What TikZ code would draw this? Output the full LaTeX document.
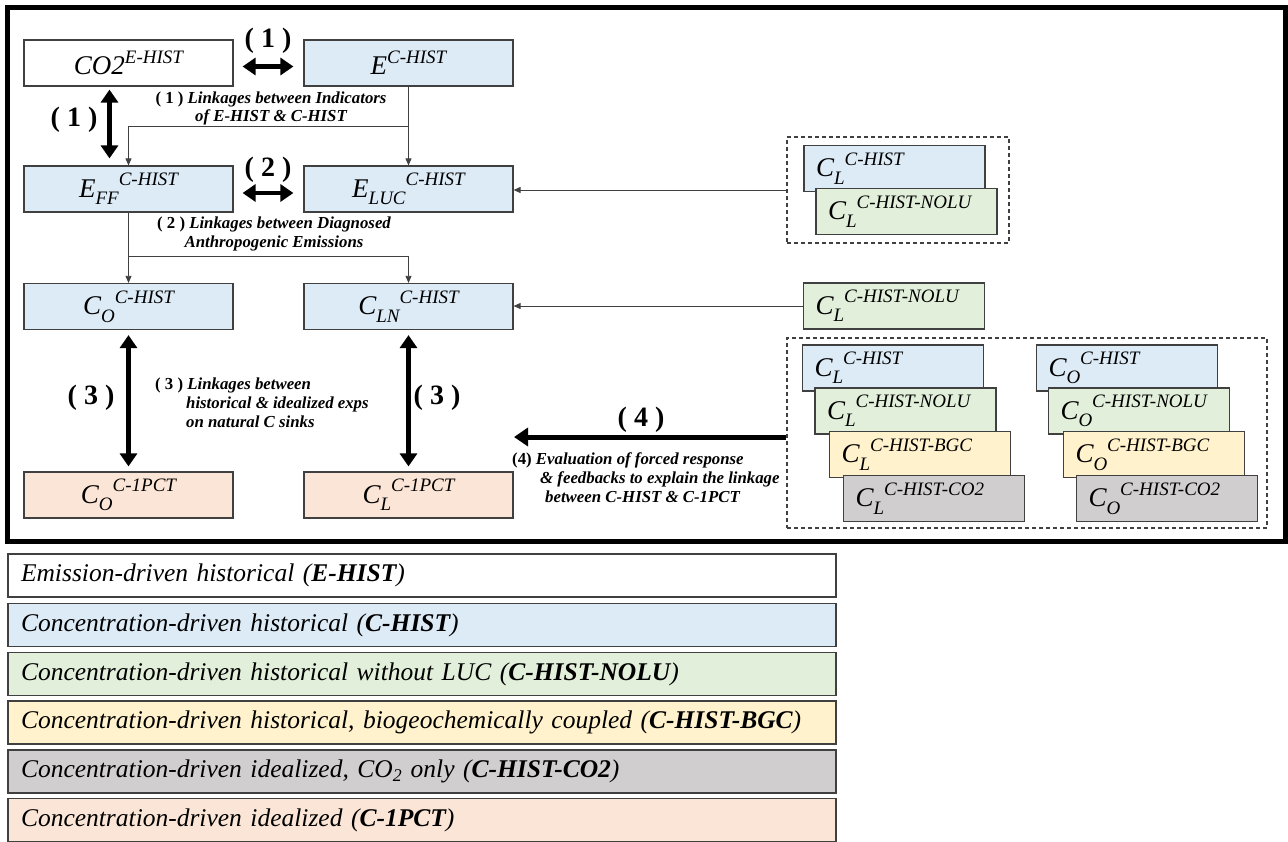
\documentclass[tikz,border=0pt]{standalone}
\usepackage{fontspec}
\setmainfont{Liberation Serif}
\usetikzlibrary{arrows.meta}

\definecolor{edge}{RGB}{64,64,64}
\definecolor{chist}{RGB}{221,235,247}
\definecolor{cnolu}{RGB}{226,239,218}
\definecolor{cbgc}{RGB}{255,242,204}
\definecolor{cco2}{RGB}{208,206,206}
\definecolor{cpct}{RGB}{251,229,214}

\newcommand{\up}[1]{\raisebox{0.42em}{\fontsize{19}{19}\selectfont #1}}
\newcommand{\dn}[1]{\raisebox{-0.28em}{\fontsize{19}{19}\selectfont #1}}

\begin{document}
\begin{tikzpicture}[x=1pt,y=-1pt,
  box/.style={draw=edge, line width=1.2pt, minimum width=209pt, minimum height=46pt, inner sep=0pt, font=\fontsize{27}{30}\selectfont\itshape},
  rbox/.style={box, minimum width=181pt, text width=157pt, inner xsep=12pt, align=left},
  dashbox/.style={draw=edge, line width=1.1pt, dash pattern=on 4pt off 3pt, inner sep=0pt},
  leg/.style={draw=edge, line width=1.5pt, minimum height=43pt, text width=802pt, inner xsep=13pt, inner ysep=0pt, align=left, font=\fontsize{25.5}{28}\selectfont\itshape},
  num/.style={inner sep=0pt, font=\fontsize{28}{30}\selectfont\bfseries},
  note/.style={inner sep=0pt, font=\fontsize{16.8}{18.8}\selectfont\bfseries\itshape},
  thinarr/.style={draw=edge, line width=0.8pt, -{Triangle[length=7pt,width=6pt]}},
  bigarr/.style={line width=4.5pt, {Triangle[length=13pt,width=17pt]}-{Triangle[length=13pt,width=17pt]}},
  bigarrfour/.style={line width=5pt, -{Triangle[length=14pt,width=18pt]}}]
\useasboundingbox (0,0) rectangle (1288,841);
\draw[line width=5pt] (7,7.5) rectangle (1285,541);

% left part
\node[box, fill=white] (co2e) at (128.5,63) {CO2\up{E-HIST}};
\node[box, fill=chist] (ech) at (408.5,63) {E\up{C-HIST}};
\node[box, fill=chist] (eff) at (128.5,189) {E\dn{FF}\up{C-HIST}};
\node[box, fill=chist] (eluc) at (408.5,189) {E\dn{LUC}\up{C-HIST}};
\node[box, fill=chist] (co) at (128.5,306.5) {C\dn{O}\up{C-HIST}};
\node[box, fill=chist] (cln) at (408.5,306.5) {C\dn{LN}\up{C-HIST}};
\node[box, fill=cpct] (copct) at (128.5,495) {C\dn{O}\up{C-1PCT}};
\node[box, fill=cpct] (clpct) at (408.5,495) {C\dn{L}\up{C-1PCT}};

% right part
\node[dashbox, minimum width=222pt, minimum height=106pt] (grp1) at (898,190) {};
\node[rbox, fill=chist] (clh) at (894.5,168.5) {C\dn{L}\up{C-HIST}};
\node[rbox, fill=cnolu] (cln1) at (906.5,211.5) {C\dn{L}\up{C-HIST-NOLU}};
\node[rbox, fill=cnolu] (nolu) at (894,306) {C\dn{L}\up{C-HIST-NOLU}};
\node[dashbox, minimum width=480pt, minimum height=190pt] (grp2) at (1027,433) {};
\node[rbox, fill=chist] (la) at (893,368) {C\dn{L}\up{C-HIST}};
\node[rbox, fill=cnolu] (lb) at (905.5,411) {C\dn{L}\up{C-HIST-NOLU}};
\node[rbox, fill=cbgc] (lc) at (920,454.5) {C\dn{L}\up{C-HIST-BGC}};
\node[rbox, fill=cco2] (ld) at (934,498.5) {C\dn{L}\up{C-HIST-CO2}};
\node[rbox, fill=chist] (oa) at (1127,368) {C\dn{O}\up{C-HIST}};
\node[rbox, fill=cnolu] (ob) at (1139,411) {C\dn{O}\up{C-HIST-NOLU}};
\node[rbox, fill=cbgc] (oc) at (1154,454.5) {C\dn{O}\up{C-HIST-BGC}};
\node[rbox, fill=cco2] (od) at (1167,498.5) {C\dn{O}\up{C-HIST-CO2}};

% thin links
\coordinate (split1) at (408.5,126);
\coordinate (split2) at (128.5,256);
\draw[thinarr] (ech) -- (eluc);
\draw[thinarr] (split1) -| (eff.north);
\draw[thinarr] (eff) -- (co);
\draw[thinarr] (split2) -| (cln.north);
\draw[thinarr] (grp1.west) -- (grp1.west -| eluc.east);
\draw[thinarr] (nolu.west) -- (nolu.west -| cln.east);

% thick links
\draw[bigarr] ([xshift=9pt,yshift=-3.5pt]co2e.east) -- ([xshift=-10pt,yshift=-3.5pt]ech.west);
\draw[bigarr] ([xshift=-19pt,yshift=-3pt]co2e.south) -- ([xshift=-19pt,yshift=7pt]eff.north);
\draw[bigarr] ([xshift=9pt,yshift=-4pt]eff.east) -- ([xshift=-10pt,yshift=-4pt]eluc.west);
\draw[bigarr] ([yshift=-5pt]co.south) -- ([yshift=5pt]copct.north);
\draw[bigarr] ([yshift=-5pt]cln.south) -- ([yshift=5pt]clpct.north);
\coordinate (tip4) at (514,437);
\draw[bigarrfour] (grp2.west |- tip4) -- (tip4);

% labels
\node[num] (l1a) at (268,40.5) {( 1 )};
\node[num] (l1b) at (74,119.5) {( 1 )};
\node[num] (l2) at (268,169.5) {( 2 )};
\node[num] (l3a) at (91,398) {( 3 )};
\node[num] (l3b) at (437,398) {( 3 )};
\node[num] (l4) at (641,420) {( 4 )};
\node[note, align=center] (t1) at (271,108.5) {\textup{( 1 )} Linkages between Indicators\\of E-HIST \& C-HIST};
\node[note, align=center] (t2) at (274,234) {\textup{( 2 )} Linkages between Diagnosed\\Anthropogenic Emissions};
\node[note, align=left, anchor=west] (t3) at (155,402.5) {\textup{( 3 )} Linkages between\\\hspace*{31pt}historical \& idealized exps\\\hspace*{31pt}on natural C sinks};
\node[note, align=left, anchor=west] (t4) at (512,477.5) {\textup{(4)} Evaluation of forced response\\\hspace*{28pt}\& feedbacks to explain the linkage\\\hspace*{33pt}between C-HIST \& C-1PCT};

% legend
\node[leg, fill=white] (k1) at (422,575.5) {Emission-driven historical (\textbf{E-HIST})};
\node[leg, fill=chist] (k2) at (422,625) {Concentration-driven historical (\textbf{C-HIST})};
\node[leg, fill=cnolu] (k3) at (422,674) {Concentration-driven historical without LUC (\textbf{C-HIST-NOLU})};
\node[leg, fill=cbgc] (k4) at (422,722.5) {Concentration-driven historical, biogeochemically coupled (\textbf{C-HIST-BGC})};
\node[leg, fill=cco2] (k5) at (422,771.5) {Concentration-driven idealized, CO\textsubscript{2} only (\textbf{C-HIST-CO2})};
\node[leg, fill=cpct] (k6) at (422,820) {Concentration-driven idealized (\textbf{C-1PCT})};
\end{tikzpicture}
\end{document}
